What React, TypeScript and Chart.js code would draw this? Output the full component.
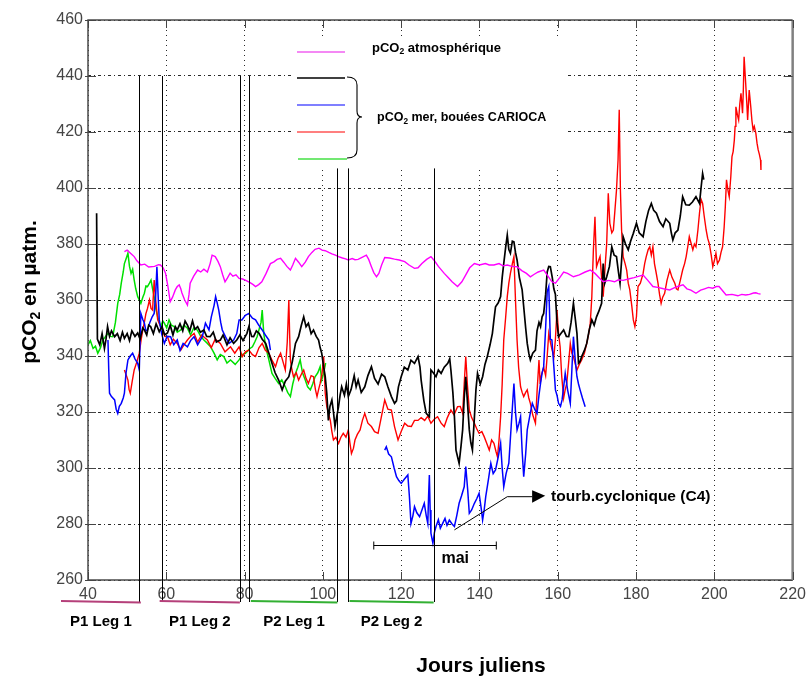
import React, { useEffect, useRef } from "react";
import { Chart, registerables } from "chart.js";

Chart.register(...registerables);

// ---------------- DATA (Julian day, pCO2 in µatm) ----------------
const xMin = 40;
const xMax = 220;
const xStep = 20;
const yMin = 260;
const yMax = 460;
const yStep = 20;

const atmData: [number, number][] = [
  [49.3, 377.3], [50, 377.8], [51, 376.5], [51.8, 375.5], [52.5, 374], [53.5, 372.5], [54.5, 372.8], [55.5, 371.8],
  [57, 372], [58, 372.6], [58.5, 372.5], [59.2, 371.5], [59.8, 369.6], [60.4, 365], [61, 359.4], [61.6, 361],
  [62.3, 363.6], [62.8, 364.8], [63.3, 365.4], [63.7, 364], [64, 362.5], [64.7, 360], [65.4, 358.2], [65.8, 362],
  [66.1, 366], [67, 368.5], [68, 370.7], [68.8, 370], [69.6, 371], [70.5, 370], [71.2, 373], [71.7, 376],
  [72.5, 375.5], [73.2, 373.8], [73.8, 371.9], [74.4, 369], [75, 366.5], [75.6, 367.8], [76.3, 369.6], [77, 368.5],
  [77.8, 369], [78.6, 367.7], [79.5, 367.5], [80.3, 367], [81.4, 366.2], [82.2, 365.5], [82.8, 364.8], [83.6, 365.5],
  [84.4, 366.5], [85.5, 369.5], [86.6, 373], [87.5, 373.6], [88.3, 374.5], [89.2, 374.9], [90, 373.5], [90.8, 372],
  [91.7, 370.7], [92.3, 372.5], [93, 374.9], [93.8, 373.5], [94.6, 371.9], [95.5, 373.5], [96.3, 375.5], [97.2, 377],
  [98, 378.1], [99, 378.5], [99.8, 377.8], [100.6, 377.6], [101.5, 377], [102.3, 376.5], [103.2, 376], [104, 375.5],
  [105, 375], [105.8, 374.7], [106.5, 374.3], [107.5, 374.8], [108.2, 374.4], [109, 374.5], [110, 375.2], [111.1, 376],
  [111.7, 374.5], [112.4, 371.9], [113, 369.8], [113.7, 368.3], [114.3, 369.5], [115, 372.5], [115.8, 375.2], [117, 375],
  [118.3, 374.6], [119.5, 374.3], [120.9, 373.7], [122, 372.5], [123.4, 371.3], [124.3, 371.5], [125.3, 373], [126.5, 374.5],
  [127.6, 375.5], [128.5, 374], [129.5, 372], [131, 369.5], [132, 368], [133, 366.5], [134.4, 364.8], [135.5, 366.5],
  [136.5, 369], [137.5, 371.5], [138.7, 373], [140, 372.5], [141.5, 373], [142.5, 372.5], [143.7, 372.5], [145, 373],
  [146, 372.2], [147.1, 372.5], [148.3, 372], [149.6, 371.9], [150.8, 370.5], [152, 369.5], [153, 368.3], [154, 369.2],
  [155, 370], [156.4, 370.7], [157.5, 368.5], [158.5, 366.5], [159.4, 366], [160.5, 368], [161.5, 370], [162.5, 369.5],
  [164, 368.3], [165.5, 369], [167, 370], [168.3, 370.7], [169.5, 369.5], [170.5, 368], [171.6, 366.5], [173, 367],
  [174.5, 366.5], [175.5, 367.2], [176.7, 367], [178, 367.5], [179.5, 368], [180.8, 368.5], [181.8, 368.9], [183, 367],
  [184.3, 364.8], [185.5, 364.5], [187, 364], [188.6, 363.6], [190, 364.5], [191, 365], [192, 365.4], [193, 364],
  [194, 363.5], [195.3, 362.4], [196.5, 363.5], [197.5, 364], [198.5, 364.5], [199.6, 364.2], [200.5, 364.8], [201.2, 364.8],
  [202, 363.5], [203, 361.8], [204.5, 362], [206, 361.5], [207, 362], [208, 361.8], [209, 362], [210, 362.5],
  [210.6, 362.6], [211.2, 362.3], [211.8, 362.1],
];

const blackData: [number, number][] = [
  [42.2, 391], [42.4, 346], [43, 344], [43.6, 348], [44.2, 342.7], [44.6, 346], [45, 350.5], [45.5, 347], [46, 349],
  [46.8, 346.9], [47.5, 348], [48.2, 345.5], [48.8, 348.5], [49.3, 346.3], [50, 348], [50.6, 345.5], [51.2, 349], [52, 347],
  [52.7, 348.2], [53.3, 346], [54, 350], [54.4, 349.3], [55, 347.5], [55.5, 351], [56, 350.5], [56.7, 348], [57.4, 351.5],
  [58.2, 348.7], [58.9, 350.5], [59.6, 347.5], [60.3, 348.2], [61, 351], [61.7, 347.5], [62.3, 350.5], [62.8, 349.3],
  [63.5, 351.5], [64.2, 349], [64.8, 352.5], [65.4, 351], [66, 349], [66.7, 352.5], [67.3, 349.5], [68, 350.5], [68.7, 348.5],
  [69.6, 349.3], [70.3, 347], [71.2, 346.9], [72, 348.5], [72.8, 345], [73.8, 345.7], [74.5, 347.5], [75.5, 344], [76.3, 346.5],
  [77.2, 344.5], [78, 345.7], [78.8, 347.5], [79.6, 345.5], [80.6, 348.1], [81.1, 350.5], [81.8, 347], [82.3, 346.9], [83, 349],
  [83.7, 348.1], [84.5, 346], [85.4, 344.5], [86.2, 341], [87, 337.4], [87.8, 334], [88.7, 331.4], [89.6, 327.9], [90.4, 331],
  [91.3, 332.6], [92.2, 338], [93, 344.5], [93.8, 346.9], [94.5, 351], [95.1, 354], [95.7, 350.5], [96.3, 351.7], [97, 348],
  [97.6, 349.3], [98.3, 347], [98.9, 345.7], [99.3, 343], [99.7, 341], [100.2, 336], [100.6, 332.6], [101, 326.7], [101.4, 317],
  [101.8, 322], [102.3, 324.3], [102.7, 320], [103.1, 314.8], [103.5, 318], [104, 321.9], [104.4, 326], [104.8, 329],
  [105.5, 326], [106, 330], [106.5, 325.5], [107.2, 328], [108, 333], [108.5, 329], [109, 331.4], [109.8, 327], [110.7, 329],
  [111.5, 333], [112.4, 336.2], [113.2, 332], [114.1, 330], [115, 333.5], [115.8, 332.6], [116.6, 329], [117.5, 325.5],
  [118.3, 323.1], [118.8, 324], [119.3, 329], [120, 332.6], [120.8, 336], [121.7, 335], [122.5, 338.5], [123.4, 337.4],
  [124.3, 339.8], [124.8, 336], [125.1, 331.4], [125.8, 324], [126.4, 319.5], [127.2, 318.3], [127.6, 335], [128.2, 334],
  [128.9, 332.6], [129.5, 335], [130.2, 333.8], [131, 336], [131.9, 337.4], [132.4, 339], [132.7, 335], [133.2, 327],
  [133.6, 318.3], [134, 306.4], [134.4, 304], [134.8, 301.7], [135.3, 308], [135.7, 313.6], [136.1, 325], [136.5, 332.6],
  [137, 322], [137.4, 313.6], [137.8, 309], [138.2, 306.4], [138.7, 318], [139.1, 328], [139.5, 333.8], [140.2, 330],
  [140.8, 332.6], [141.4, 337], [142, 339.8], [142.7, 344], [143.3, 348.1], [143.7, 353], [144.1, 357.6], [144.8, 359],
  [145.4, 361.2], [145.8, 368], [146.2, 373], [146.7, 379], [147.1, 383.2], [147.5, 378], [147.9, 376.7], [148.4, 381],
  [148.8, 380.8], [149.2, 377], [149.6, 374.3], [150.2, 368], [150.9, 363.6], [151.3, 357.6], [151.8, 350], [152.2, 344.5],
  [152.6, 341], [153, 338.6], [153.6, 341], [154.3, 342.1], [154.7, 349], [155.2, 352], [155.6, 350.5], [156, 354],
  [156.4, 355.2], [156.9, 362], [157.3, 370], [157.7, 372], [158.1, 371.9], [158.6, 368], [159, 364], [159.4, 362],
  [159.8, 352], [160.2, 346.9], [160.8, 348], [161.5, 349.3], [162.2, 347], [162.8, 346.9], [163.4, 352], [164, 358.8],
  [164.5, 353], [164.9, 348.1], [165.3, 337.4], [165.7, 338], [166.1, 339.8], [166.8, 342], [167.4, 344.5], [168, 349],
  [168.7, 352.9], [169.3, 351], [169.9, 354], [170.5, 356], [171.2, 358.8], [171.6, 373], [172, 366], [172.5, 368.3],
  [173.2, 372], [173.8, 379], [174.4, 376], [175, 375.5], [175.5, 370], [175.9, 366], [176.3, 374], [176.7, 382.6],
  [177.3, 380], [178, 377.9], [178.6, 381], [179.3, 383.8], [180.1, 387.4], [180.8, 384], [181.8, 382.6], [182.5, 388],
  [183.2, 392], [183.9, 394.5], [184.5, 392], [185.2, 391], [186, 388], [186.9, 386.2], [187.6, 389], [188.6, 387.4],
  [189, 384], [189.4, 381.4], [190, 384], [190.7, 385], [191.3, 390], [191.9, 396.9], [192.7, 394], [193.6, 393.9],
  [194.4, 395], [195.3, 396.9], [196.2, 394.5], [196.6, 400], [197, 405.2], [197.3, 403],
];

const blueFirstBuoy: [number, number][] = [
  [45.1, 345.7], [45.3, 335], [45.5, 326.7], [46, 325.5], [46.8, 324.3], [47.2, 321], [47.6, 319.5], [48, 322], [48.5, 323.1],
  [49, 325], [49.3, 326.7], [49.7, 333.8], [50.2, 338.6], [50.8, 340], [51.4, 341], [52, 339], [52.7, 337.4], [53.1, 335],
  [53.5, 355.2], [54, 353], [54.4, 351.7], [54.8, 349], [55.2, 349.3], [55.8, 352], [56.4, 354], [56.9, 355.2], [57.3, 362],
  [57.6, 371.9], [57.9, 362], [58.2, 352.9], [58.8, 348], [59.5, 344.5], [60.2, 347], [61.1, 346.9], [61.9, 344],
  [62.8, 345.7], [63.5, 342], [64.3, 344.5], [65.4, 343.3], [66.2, 345.5], [67.1, 346.9], [68, 344], [69.2, 346.9],
  [70, 351.7], [70.9, 349.3], [71.5, 354], [72.2, 358], [72.6, 361.2], [73, 359], [73.4, 356.4], [73.9, 352], [74.3, 349.3],
  [75.1, 346.9], [76, 344.5], [77.2, 345.7], [78, 348], [78.6, 352.9], [79.3, 352.9], [80.2, 354.5], [81.1, 355.2], [82, 353.5],
  [82.8, 352.9], [83.6, 351], [84.5, 349.3], [85.3, 347.5], [86.2, 345.7], [86.6, 342.1],
];

const blueSecondBuoy: [number, number][] = [
  [115.8, 306.4], [116.2, 307.6], [116.8, 305], [117.5, 304], [118.2, 300], [118.8, 296.9], [119.4, 295.5], [120, 294.5],
  [120.8, 296], [121.7, 297.5], [122.1, 289.8], [122.5, 280.2], [123, 283], [123.4, 286.2], [124, 284], [124.7, 282.6],
  [125.3, 285], [125.9, 287.4], [126.4, 283], [126.8, 280.2], [127, 290], [127.2, 297.5], [127.4, 285], [127.6, 276.7],
  [128.1, 273.1], [128.5, 277], [128.9, 279.1], [129.5, 281.5], [130, 278.5], [130.6, 280.2], [131.2, 282], [131.7, 279.5],
  [132.3, 281.4], [133, 280], [133.6, 279.1], [134.2, 283], [134.8, 287.4], [135.4, 290], [136.1, 293.3], [136.5, 300.5],
  [137, 292], [137.4, 283.8], [138, 285], [138.7, 287.4], [139.3, 289], [139.9, 291], [140.4, 286], [140.8, 281.4],
  [141.2, 285], [141.6, 289.8], [142.3, 296], [142.9, 301.7], [143.5, 298], [144.1, 299.3], [144.8, 304], [145.4, 308.8],
  [145.8, 300], [146.2, 293.3], [146.8, 298], [147.5, 301.7], [148.1, 315], [148.8, 330.2], [149.2, 320], [149.6, 313.6],
  [150.1, 316], [150.5, 318.3], [150.9, 306], [151.3, 296.9], [151.8, 305], [152.2, 313.6], [152.9, 319], [153.5, 323.1],
  [154.1, 321], [154.7, 319.5], [155.2, 326], [155.6, 330.2], [156, 334], [156.4, 336.2], [156.9, 350], [157.3, 363],
  [157.7, 364.8], [158.1, 346], [158.5, 345.7], [159, 336.2], [159.4, 327.9], [159.8, 326], [160.2, 323.1], [160.7, 322],
  [161.1, 324.3], [161.5, 329], [161.9, 333.8], [162.5, 328], [163.2, 323.1], [163.6, 335], [164, 346.9], [164.5, 338],
  [164.9, 332.6], [165.3, 330], [165.7, 327.9], [166.3, 325], [167, 321.9],
];

const redData: [number, number][] = [
  [49.3, 335], [49.8, 333], [50.2, 331.4], [50.5, 328], [50.8, 326.7], [51.3, 331], [51.8, 335], [52.5, 338], [53.1, 341],
  [53.6, 346], [54, 349.3], [54.4, 352], [54.8, 355.2], [55.2, 357], [55.7, 360], [56.1, 357], [56.5, 356.4], [56.9, 367.1],
  [57.3, 360], [57.8, 352.9], [58.4, 351], [59, 349.3], [59.6, 347], [60.3, 346.9], [61, 344], [61.8, 346], [62.8, 344.5],
  [63.7, 342.1], [64.5, 344], [65.4, 345.7], [66.2, 347], [67.1, 348.1], [68, 345], [69, 347.5], [70.5, 345.7], [71.5, 343],
  [72.5, 346], [73.8, 344.5], [75, 341.5], [76.4, 343.3], [77.5, 341], [78.6, 343.3], [79.4, 339.8], [80.2, 341.5],
  [81.1, 342.1], [82, 340.5], [82.8, 339.8], [83.7, 343], [84.5, 344.5], [85.3, 342], [86.2, 341], [87, 338.5], [87.9, 336.2],
  [88.5, 339], [89.2, 341], [89.8, 338], [90.4, 335], [90.9, 345], [91.3, 360], [91.5, 348], [91.7, 338.6], [92.1, 335],
  [92.5, 332.6], [93.2, 334], [93.8, 331.4], [94.5, 333.5], [95.1, 335], [95.7, 332], [96.3, 330.2], [97, 333], [97.6, 332.6],
  [98.1, 328], [98.5, 325.5], [98.9, 328], [99.3, 330.2], [99.8, 334], [100.2, 339.8], [100.6, 326.7], [101, 321.9],
  [101.5, 319], [101.9, 317], [102.3, 313], [102.7, 310], [103.3, 311], [104, 308.8], [104.6, 311], [105.2, 312.4],
  [105.9, 311], [106.5, 313.6], [106.9, 309], [107.3, 305.2], [107.8, 307], [108.2, 310], [108.8, 312], [109.5, 313.6],
  [110.1, 317], [110.7, 319.5], [111.5, 316], [112.4, 314.8], [113.2, 313], [114.1, 312.4], [114.9, 318], [115.8, 324.3],
  [116.6, 321], [117.5, 320.7], [118.3, 314.8], [119.2, 310], [120, 313], [120.9, 316], [121.7, 315], [122.6, 314.8],
  [123.4, 317], [124.3, 317], [125.1, 318], [126, 317], [126.8, 318.5], [127.6, 316], [128.5, 317.5], [129.3, 318.3],
  [130.2, 316], [131, 314.8], [131.8, 318], [132.7, 320.7], [133.5, 319], [134.4, 321.9], [135.1, 322], [135.7, 319.5],
  [136.1, 330], [136.5, 339.8], [136.9, 330], [137.4, 320.7], [138, 318], [138.7, 316], [139.3, 314], [139.9, 312.4],
  [140.6, 313], [141.2, 311.2], [141.8, 309], [142.5, 306.4], [143.1, 310], [143.7, 308.8], [144.2, 306], [144.6, 304],
  [145, 310], [145.4, 318.3], [145.8, 330], [146.2, 345.7], [146.7, 354], [147.1, 361.2], [147.5, 366], [147.9, 369.5],
  [148.4, 373], [148.8, 375.5], [149.2, 360], [149.6, 345.7], [150, 336], [150.5, 329], [150.9, 327], [151.3, 325.5],
  [151.8, 327], [152.2, 327.9], [152.6, 325], [153, 323.1], [153.6, 319], [154.3, 316], [154.7, 327], [155.2, 338.6],
  [155.5, 330], [155.8, 333], [156.4, 336], [156.9, 333], [157.3, 340], [157.7, 348.1], [158.1, 345], [158.5, 342.5],
  [159, 339.8], [159.4, 346], [159.8, 356.4], [160.2, 348], [160.6, 343.3], [161, 333], [161.5, 325], [161.9, 328],
  [162.3, 330.2], [162.8, 338], [163.2, 344.5], [163.6, 341], [164, 339.8], [164.5, 337], [164.9, 335], [165.5, 337],
  [166.1, 338.6], [166.8, 341], [167.4, 344.5], [167.9, 348], [168.3, 351.7], [168.7, 361.2], [169.1, 377.9], [169.5, 389.7],
  [169.9, 371.9], [170.4, 374], [170.8, 375.5], [171.2, 368], [171.6, 361.2], [172.1, 372], [172.5, 380.2], [172.9, 398.1],
  [173.3, 387.4], [173.8, 384], [174.2, 385], [174.6, 392], [175, 399.3], [175.4, 410], [175.7, 427.9], [176, 399.3],
  [176.3, 385], [176.7, 375.5], [177.2, 373], [177.6, 370.7], [178, 366], [178.4, 363.6], [178.9, 358], [179.3, 352.9],
  [179.7, 350.5], [180.1, 354], [180.5, 364.8], [181.1, 366], [181.8, 369.5], [182.2, 373], [182.6, 375.5], [183.1, 378],
  [183.5, 379], [183.9, 376], [184.3, 379], [184.7, 373], [185.1, 370], [185.6, 366], [186, 362], [186.4, 358.8],
  [186.8, 361], [187.3, 362.4], [187.9, 367], [188.6, 370.7], [189.2, 368], [189.9, 366], [190.3, 364], [190.7, 363.6],
  [191.3, 367], [191.9, 370.7], [192.4, 373], [192.8, 375.5], [193.2, 379], [193.6, 382.6], [194.1, 380], [194.5, 377.9],
  [194.9, 380], [195.3, 379], [195.8, 385], [196.2, 391], [196.6, 396], [197, 394.5], [197.4, 390], [197.9, 385],
  [198.3, 382], [198.7, 380.2], [199.2, 376], [199.6, 371.9], [200, 374], [200.4, 376.7], [200.8, 373], [201.3, 374.3],
  [201.7, 377], [202.1, 379], [202.5, 386], [202.8, 393.3], [203.1, 402.9], [203.5, 399], [203.8, 396.9], [204.2, 404],
  [204.5, 411.2], [204.8, 413], [205.1, 417.1], [205.3, 422], [205.5, 429], [205.9, 426], [206.2, 424.3], [206.5, 430],
  [206.8, 433.8], [207.2, 426.7], [207.4, 435], [207.6, 446.9], [208, 437.4], [208.3, 430], [208.5, 424.3], [208.9, 435],
  [209.3, 429], [209.6, 424], [209.9, 420.7], [210.2, 422], [210.6, 419.5], [210.9, 416], [211.2, 413.6], [211.5, 412],
  [211.8, 410], [211.9, 406.4],
];

const greenData: [number, number][] = [
  [40, 344], [40.6, 345.5], [41.3, 342.7], [41.9, 343.5], [42.5, 341], [43.2, 343], [43.8, 345.7], [44.5, 347], [45.1, 348.1],
  [45.7, 347], [46.3, 346.9], [47, 352], [47.6, 358.8], [48.1, 362], [48.5, 366], [49, 370], [49.3, 373], [49.8, 375],
  [50.2, 376.7], [50.6, 372], [51, 369.5], [51.4, 371], [51.8, 367.1], [52.2, 364], [52.7, 361.2], [53.1, 360], [53.5, 358.8],
  [54, 361], [54.4, 362.4], [54.8, 365], [55.2, 364.8], [55.7, 366], [56.1, 367.1], [56.5, 364], [56.9, 361.2], [57.3, 357],
  [57.8, 354], [58.2, 352], [58.6, 350.5], [59.1, 352.5], [59.5, 351.7], [60.1, 350], [60.7, 352.9], [61.3, 351], [62, 350.5],
  [62.8, 348.5], [63.7, 349.3], [64.5, 351], [65.4, 349.9], [66.2, 347.5], [67, 350], [67.9, 349.3], [68.8, 347],
  [69.6, 345.7], [70.5, 344.5], [71.3, 343.3], [72.2, 341], [73, 338.6], [73.8, 340.5], [74.7, 339.8], [75.5, 337.5],
  [76.4, 338.6], [77.6, 337], [78.6, 338.6], [79.4, 340.5], [80.3, 341], [81.2, 342.5], [82, 343.3], [82.6, 345], [83.2, 346.9],
  [83.8, 350], [84.2, 352], [84.5, 356.4], [84.9, 348], [85.4, 343.3], [86.2, 338.6], [87, 333.8], [87.8, 332], [88.7, 330.2],
  [89.5, 331.5], [90.4, 329], [91, 327], [91.7, 325.5], [92.3, 330], [93, 333.8], [93.6, 336], [94.2, 338.6], [94.8, 334],
  [95.5, 331.4], [96.1, 329], [96.8, 327.9], [97.4, 330], [98, 332.6], [98.7, 334], [99.3, 336.2], [99.7, 331.4], [100.2, 334],
  [100.7, 337.5],
];

// Leg boundaries (vertical lines) : day and top value
const boundaryDays = [53, 59, 78.8, 81.1, 103.5, 106.5, 128.3];
const boundaryTops = [440, 440, 440, 440, 407, 407, 407];

// Cruise legs drawn under the axis
const legNames = ["P1 Leg 1", "P1 Leg 2", "P2 Leg 1", "P2 Leg 2"];
const legStarts = [33.1, 58.3, 81.6, 106.8];
const legEnds = [53.5, 78.8, 103.7, 128.3];
const legColors = ["#b5407a", "#b5407a", "#33b033", "#33b033"];

// "mai" bracket
const maiStart = 113;
const maiEnd = 144.3;
const maiLevel = 272.5;
const maiLabelDay = 133.8;
const maiLabelLevel = 268;

// Arrow to "tourb.cyclonique (C4)"
const arrowDays = [133.6, 147.1, 153.45];
const arrowLevels = [277.9, 289.75, 289.75];
const arrowTipDay = 156.8;
const arrowLabelDay = 158.3;
const arrowLabelLevel = 290.2;

// ---------------- drawing helpers ----------------
const FONT = '"Liberation Sans", Arial, Helvetica, sans-serif';
type Part = { t: string; sub?: boolean };

function drawRich(
  ctx: CanvasRenderingContext2D,
  x: number,
  baseline: number,
  parts: Part[],
  size: number,
  align: "left" | "center"
) {
  const subSize = size * 0.66;
  let total = 0;
  const widths: number[] = [];
  for (const p of parts) {
    ctx.font = `bold ${p.sub ? subSize : size}px ${FONT}`;
    const w = ctx.measureText(p.t).width;
    widths.push(w);
    total += w;
  }
  let cx = align === "center" ? x - total / 2 : x;
  ctx.textAlign = "left";
  ctx.textBaseline = "alphabetic";
  parts.forEach((p, i) => {
    ctx.font = `bold ${p.sub ? subSize : size}px ${FONT}`;
    ctx.fillText(p.t, cx, p.sub ? baseline + size * 0.2 : baseline);
    cx += widths[i];
  });
}

const toPts = (arr: [number, number][]) => arr.map(([x, y]) => ({ x, y }));

const decorPlugin = {
  id: "decor",
  beforeDatasetsDraw(chart: any) {
    const { ctx, chartArea: a } = chart;
    // white legend panel hiding the grid
    ctx.save();
    ctx.fillStyle = "#ffffff";
    ctx.fillRect(a.left + 205, a.top + 18, 272, 130);
    ctx.restore();
  },
  afterDatasetsDraw(chart: any) {
    const { ctx, chartArea: a } = chart;
    const xs = chart.scales.x;
    const ys = chart.scales.y;
    ctx.save();

    // frame
    ctx.strokeStyle = "#4a4a4a";
    ctx.lineWidth = 1.5;
    ctx.beginPath();
    ctx.moveTo(a.left, a.bottom);
    ctx.lineTo(a.left, a.top);
    ctx.lineTo(a.right, a.top);
    ctx.stroke();
    ctx.beginPath();
    ctx.moveTo(a.left, a.bottom);
    ctx.lineTo(a.right, a.bottom);
    ctx.stroke();
    ctx.strokeStyle = "#808080";
    ctx.lineWidth = 2.5;
    ctx.beginPath();
    ctx.moveTo(a.right, a.top);
    ctx.lineTo(a.right, a.bottom);
    ctx.stroke();

    // inward ticks
    ctx.strokeStyle = "#444";
    ctx.lineWidth = 1;
    for (let v = xMin; v <= xMax; v += xStep) {
      const px = Math.round(xs.getPixelForValue(v)) + 0.5;
      ctx.beginPath();
      ctx.moveTo(px, a.top);
      ctx.lineTo(px, a.top + 8);
      ctx.moveTo(px, a.bottom);
      ctx.lineTo(px, a.bottom - 8);
      ctx.stroke();
    }
    for (let v = yMin; v <= yMax; v += yStep) {
      const py = Math.round(ys.getPixelForValue(v)) + 0.5;
      ctx.beginPath();
      ctx.moveTo(a.left - 3, py);
      ctx.lineTo(a.left + 8, py);
      ctx.moveTo(a.right, py);
      ctx.lineTo(a.right - 9, py);
      ctx.stroke();
    }

    // leg boundary lines
    ctx.strokeStyle = "#000";
    ctx.lineWidth = 1;
    boundaryDays.forEach((d, i) => {
      const px = Math.round(xs.getPixelForValue(d)) + 0.5;
      ctx.beginPath();
      ctx.moveTo(px, ys.getPixelForValue(boundaryTops[i]));
      ctx.lineTo(px, a.bottom + 22);
      ctx.stroke();
    });

    // leg segments under axis + labels
    legNames.forEach((name, i) => {
      const x0 = xs.getPixelForValue(legStarts[i]);
      const x1 = xs.getPixelForValue(legEnds[i]);
      ctx.strokeStyle = legColors[i];
      ctx.lineWidth = 2;
      ctx.beginPath();
      ctx.moveTo(x0, a.bottom + 21);
      ctx.lineTo(x1, a.bottom + 22.5);
      ctx.stroke();
      ctx.fillStyle = "#000";
      drawRich(ctx, (x0 + x1) / 2, a.bottom + 45.5, [{ t: name }], 15, "center");
    });

    // mai bracket
    ctx.strokeStyle = "#000";
    ctx.lineWidth = 1;
    const my = Math.round(ys.getPixelForValue(maiLevel)) + 0.5;
    const mx0 = xs.getPixelForValue(maiStart);
    const mx1 = xs.getPixelForValue(maiEnd);
    ctx.beginPath();
    ctx.moveTo(mx0, my);
    ctx.lineTo(mx1, my);
    ctx.moveTo(mx0, my - 4);
    ctx.lineTo(mx0, my + 4);
    ctx.moveTo(mx1, my - 4);
    ctx.lineTo(mx1, my + 4);
    ctx.stroke();
    ctx.fillStyle = "#000";
    drawRich(ctx, xs.getPixelForValue(maiLabelDay), ys.getPixelForValue(maiLabelLevel) + 5.5, [{ t: "mai" }], 16, "center");

    // arrow
    ctx.beginPath();
    arrowDays.forEach((d, i) => {
      const px = xs.getPixelForValue(d);
      const py = ys.getPixelForValue(arrowLevels[i]);
      if (i === 0) ctx.moveTo(px, py);
      else ctx.lineTo(px, py);
    });
    ctx.stroke();
    const bx = xs.getPixelForValue(arrowDays[arrowDays.length - 1]);
    const by = ys.getPixelForValue(arrowLevels[arrowLevels.length - 1]);
    const tx = xs.getPixelForValue(arrowTipDay);
    ctx.beginPath();
    ctx.moveTo(bx, by - 6.5);
    ctx.lineTo(tx, by - 1);
    ctx.lineTo(bx, by + 6);
    ctx.closePath();
    ctx.fill();
    drawRich(
      ctx,
      xs.getPixelForValue(arrowLabelDay),
      ys.getPixelForValue(arrowLabelLevel) + 5.5,
      [{ t: "tourb.cyclonique (C4)" }],
      15.5,
      "left"
    );

    // legend
    const lx0 = a.left + 209;
    const lx1 = a.left + 257;
    const legendRows: [string, number][] = [
      ["#f060f0", a.top + 32],
      ["#000000", a.top + 58],
      ["#5555ff", a.top + 85],
      ["#ff5555", a.top + 112],
      ["#44e044", a.top + 139],
    ];
    legendRows.forEach(([c, y], i) => {
      ctx.strokeStyle = c;
      ctx.lineWidth = 1.6;
      ctx.beginPath();
      ctx.moveTo(lx0 + (i === 4 ? 1 : 0), y);
      ctx.lineTo(lx1 + (i === 4 ? 2 : 0), y);
      ctx.stroke();
    });
    ctx.fillStyle = "#000";
    drawRich(ctx, a.left + 284, a.top + 31.5, [{ t: "pCO" }, { t: "2", sub: true }, { t: " atmosphérique" }], 13, "left");
    drawRich(ctx, a.left + 289, a.top + 101, [{ t: "pCO" }, { t: "2", sub: true }, { t: " mer, bouées CARIOCA" }], 12.5, "left");

    // brace
    const bxl = a.left + 259;
    const bxm = a.left + 269;
    const byt = a.top + 57;
    const bym = a.top + 97;
    const byb = a.top + 138;
    ctx.strokeStyle = "#000";
    ctx.lineWidth = 1.1;
    ctx.beginPath();
    ctx.moveTo(bxl, byt);
    ctx.quadraticCurveTo(bxm, byt, bxm, byt + 8);
    ctx.lineTo(bxm, bym - 6);
    ctx.quadraticCurveTo(bxm, bym, bxm + 5, bym);
    ctx.quadraticCurveTo(bxm, bym, bxm, bym + 6);
    ctx.lineTo(bxm, byb - 8);
    ctx.quadraticCurveTo(bxm, byb, bxl, byb);
    ctx.stroke();

    // axis titles
    ctx.fillStyle = "#000";
    drawRich(ctx, a.left + 393, 672, [{ t: "Jours juliens" }], 21, "center");
    ctx.save();
    ctx.translate(36, 292);
    ctx.rotate(-Math.PI / 2);
    drawRich(ctx, 0, 0, [{ t: "pCO" }, { t: "2", sub: true }, { t: " en µatm." }], 21, "center");
    ctx.restore();

    ctx.restore();
  },
};

export default function App() {
  const ref = useRef<HTMLCanvasElement | null>(null);

  useEffect(() => {
    document.body.style.margin = "0";
    const canvas = ref.current;
    if (!canvas) return;
    const tickFont = { family: FONT, size: 16 };
    const chart = new Chart(canvas, {
      type: "line",
      data: {
        datasets: [
          { label: "atm", data: toPts(atmData), borderColor: "#ff00ff", borderWidth: 1.4, order: 0 },
          { label: "black", data: toPts(blackData), borderColor: "#000000", borderWidth: 1.7, order: 1 },
          {
            label: "blue",
            data: [...toPts(blueFirstBuoy), { x: 100, y: null as any }, ...toPts(blueSecondBuoy)],
            borderColor: "#0000ff",
            borderWidth: 1.5,
            order: 2,
          },
          { label: "red", data: toPts(redData), borderColor: "#ff0000", borderWidth: 1.4, order: 3 },
          { label: "green", data: toPts(greenData), borderColor: "#00e000", borderWidth: 1.5, order: 4 },
        ] as any,
      },
      options: {
        animation: false,
        responsive: false,
        parsing: false as any,
        spanGaps: false,
        layout: { padding: { left: 0, right: 14, top: 20, bottom: 0 } },
        elements: {
          point: { radius: 0 },
          line: { borderWidth: 1.4, tension: 0 },
        },
        plugins: { legend: { display: false }, tooltip: { enabled: false } },
        scales: {
          x: {
            type: "linear",
            min: xMin,
            max: xMax,
            ticks: { stepSize: xStep, color: "#454545", font: tickFont, padding: 5, maxRotation: 0, autoSkip: false },
            grid: { color: "#2a2a2a", lineWidth: 1, drawTicks: false },
            border: { display: false, dash: [1, 4] },
            afterFit: (s: any) => {
              s.height = 96;
            },
          },
          y: {
            type: "linear",
            min: yMin,
            max: yMax,
            ticks: { stepSize: yStep, color: "#454545", font: tickFont, padding: 5 },
            grid: { color: "#2a2a2a", lineWidth: 1, drawTicks: false },
            border: { display: false, dash: [3, 3, 1, 3] },
            afterFit: (s: any) => {
              s.width = 88;
            },
          },
        },
      } as any,
      plugins: [decorPlugin],
    });
    return () => chart.destroy();
  }, []);

  return <canvas ref={ref} width={811} height={676} style={{ display: "block" }} />;
}
